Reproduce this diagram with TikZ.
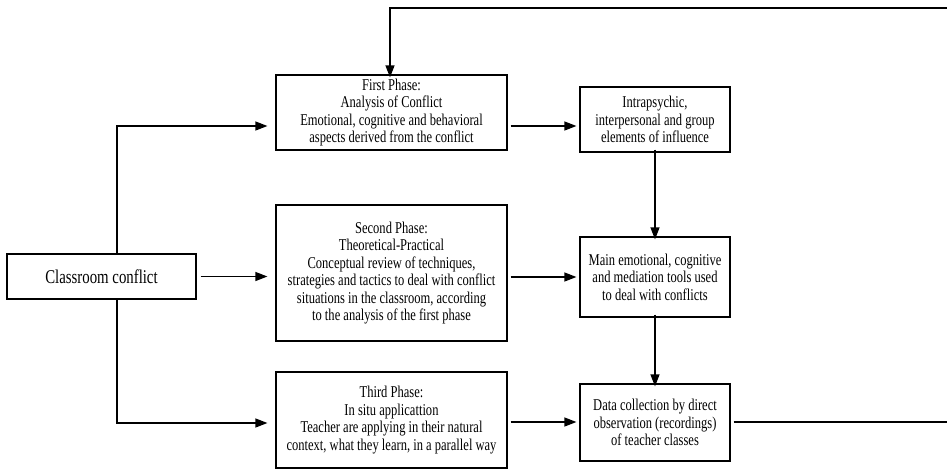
\documentclass[tikz,border=0pt]{standalone}
\usepackage{fontspec}
\setmainfont{Liberation Serif}[FakeStretch=0.76]
\usetikzlibrary{arrows.meta}
\begin{document}
\begin{tikzpicture}[x=1pt,y=-1pt,
  box/.style={draw,line width=1.2pt,align=center,inner sep=2pt,
    font=\fontsize{16.5}{17.5}\selectfont},
  link/.style={line width=1.2pt,-{Triangle[length=12pt,width=9pt]}}]
\clip (0,0) rectangle (947,474);
\fill[white] (0,0) rectangle (947,474);

% boxes
\node[box,minimum width=189pt,minimum height=45pt,font=\fontsize{19.5}{19.5}\selectfont] (cc) at (101.5,276.5) {Classroom conflict};
\node[box,minimum width=231pt,minimum height=75pt] (p1) at (391.5,112.5)
  {First Phase:\\Analysis of Conflict\\Emotional, cognitive and behavioral\\aspects derived from the conflict};
\node[box,minimum width=150pt,minimum height=65pt] (i1) at (655,119.5)
  {Intrapsychic,\\interpersonal and group\\elements of influence};
\node[box,minimum width=231pt,minimum height=136pt] (p2) at (391.5,273)
  {Second Phase:\\Theoretical-Practical\\Conceptual review of techniques,\\strategies and tactics to deal with conflict\\situations in the classroom, according\\to the analysis of the first phase};
\node[box,minimum width=150pt,minimum height=80pt] (m2) at (655,277)
  {Main emotional, cognitive\\and mediation tools used\\to deal with conflicts};
\node[box,minimum width=231pt,minimum height=96pt] (p3) at (391.5,420)
  {Third Phase:\\In situ applicattion\\Teacher are applying in their natural\\context, what they learn, in a parallel way};
\node[box,minimum width=150pt,minimum height=77pt] (d3) at (655,422.5)
  {Data collection by direct\\observation (recordings)\\of teacher classes};

% connectors from the classroom conflict
\coordinate (ctop) at (117,254);
\coordinate (cbot) at (117,299);
\draw[link] (ctop) |- ([xshift=-8pt]p1.west |- 0,126);
\draw[link] ([xshift=4pt]cc.east) -- ([xshift=-8pt]p2.west |- cc.east);
\draw[link] (cbot) |- ([xshift=-8pt]p3.west |- 0,423);

% phase to outcome
\draw[link] ([xshift=3pt]p1.east |- 0,126) -- ([xshift=-3pt]i1.west |- 0,126);
\draw[link] ([xshift=3pt]p2.east |- 0,277) -- ([xshift=-3pt]m2.west);
\draw[link] ([xshift=3pt]p3.east |- 0,422) -- ([xshift=-3pt]d3.west |- 0,422);

% outcome chain
\draw[link] ([yshift=3pt]i1.south) -- ([yshift=-3pt]m2.north);
\draw[link] ([yshift=3pt]m2.south) -- ([yshift=-3pt]d3.north);

% feedback loop back to the first phase
\coordinate (fr) at (950,422);
\coordinate (ft) at (950,8);
\draw[link] ([xshift=3pt]d3.east |- 0,422) -- (fr) -- (ft) -| ([yshift=-3pt]p1.north -| 390,0);
\end{tikzpicture}
\end{document}
